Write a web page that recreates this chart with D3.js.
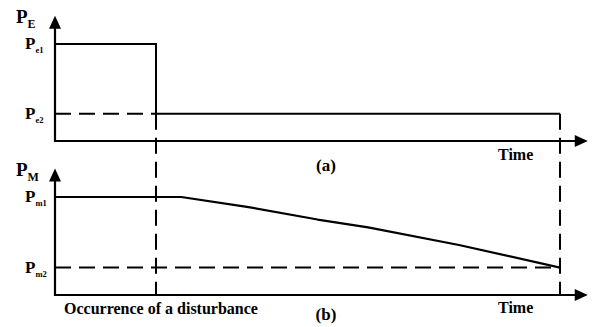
<!DOCTYPE html>
<html>
<head>
<meta charset="utf-8">
<script src="https://cdn.jsdelivr.net/npm/d3@7/dist/d3.min.js"></script>
<style>
  html, body { margin: 0; padding: 0; background: #fff; }
  svg text { font-family: "Liberation Serif", "Times New Roman", serif; font-weight: bold; fill: #000; }
</style>
</head>
<body>
<svg id="chart" width="594" height="327"></svg>
<script>
// Time instants (arbitrary units)
const tDisturbance = 2;
const tEnd = 10;
const tAxisMax = 10.55;
const valAxisMax = 1.29;

// (a) electrical power: step drop at the disturbance
const peTime = [0, 2, 2, 10];
const peValue = [1.0, 1.0, 0.28, 0.28];
const peLevels = [1.0, 0.28];
const peLabels = [["P", "e1"], ["P", "e2"]];

// (b) mechanical power: held, then slowly reduced
const pmTime = [0, 2.5, 3.8, 5.2, 6.2, 8.0, 10];
const pmValue = [1.0, 1.0, 0.9, 0.77, 0.69, 0.51, 0.28];
const pmLevels = [1.0, 0.28];
const pmLabels = [["P", "m1"], ["P", "m2"]];

const svg = d3.select("#chart");

const x = d3.scaleLinear().domain([0, tEnd]).range([55, 560]);
const ya = d3.scaleLinear().domain([0, 1]).range([141, 44]);
const yb = d3.scaleLinear().domain([0, 1]).range([295, 197]);

const ink = "#000";
const dash = "16,8";

function axes(y, title, labels, levels, timeLabelY, panelLabel, panelLabelY) {
  const g = svg.append("g");
  // vertical axis
  g.append("line")
    .attr("x1", x(0)).attr("x2", x(0))
    .attr("y1", y(0) + 1).attr("y2", y(valAxisMax) + 10)
    .attr("stroke", ink).attr("stroke-width", 2.2);
  g.append("path")
    .attr("d", `M${x(0)},${y(valAxisMax)} L${x(0) - 6},${y(valAxisMax) + 13} L${x(0) + 6},${y(valAxisMax) + 13} Z`)
    .attr("fill", ink);
  // horizontal axis
  g.append("line")
    .attr("x1", x(0) - 1).attr("x2", x(tAxisMax) - 10)
    .attr("y1", y(0)).attr("y2", y(0))
    .attr("stroke", ink).attr("stroke-width", 2.2);
  g.append("path")
    .attr("d", `M${x(tAxisMax)},${y(0)} L${x(tAxisMax) - 13},${y(0) - 6} L${x(tAxisMax) - 13},${y(0) + 6} Z`)
    .attr("fill", ink);

  // axis title, e.g. P_E
  const t = g.append("text").attr("x", 16).attr("y", y(valAxisMax) + 7).attr("font-size", 19);
  t.append("tspan").text(title[0]);
  t.append("tspan").attr("font-size", 12).attr("dy", 5).text(title[1]);

  // level labels
  labels.forEach((lab, i) => {
    const tl = g.append("text").attr("x", 25).attr("y", y(levels[i]) + 5).attr("font-size", 17);
    tl.append("tspan").text(lab[0]);
    tl.append("tspan").attr("font-size", 8.5).attr("dy", 4).text(lab[1]);
  });

  g.append("text").attr("x", 498).attr("y", timeLabelY).attr("font-size", 16).text("Time");
  g.append("text").attr("x", 326).attr("y", panelLabelY).attr("font-size", 17)
    .attr("text-anchor", "middle").text(panelLabel);
}

axes(ya, ["P", "E"], peLabels, peLevels, 160, "(a)", 171);
axes(yb, ["P", "M"], pmLabels, pmLevels, 313, "(b)", 320);

svg.append("text").attr("x", 161).attr("y", 314).attr("font-size", 16)
  .attr("text-anchor", "middle").text("Occurrence of a disturbance");

// dashed reference levels
svg.append("line")
  .attr("x1", x(0)).attr("x2", x(tDisturbance))
  .attr("y1", ya(peLevels[1])).attr("y2", ya(peLevels[1]))
  .attr("stroke", ink).attr("stroke-width", 2).attr("stroke-dasharray", dash);
svg.append("line")
  .attr("x1", x(0)).attr("x2", x(tEnd))
  .attr("y1", yb(pmLevels[1])).attr("y2", yb(pmLevels[1]))
  .attr("stroke", ink).attr("stroke-width", 2).attr("stroke-dasharray", dash);

// dashed verticals linking both panels
[tDisturbance, tEnd].forEach(t => {
  svg.append("line")
    .attr("x1", x(t)).attr("x2", x(t))
    .attr("y1", ya(peLevels[1])).attr("y2", yb(0))
    .attr("stroke", ink).attr("stroke-width", 2).attr("stroke-dasharray", dash);
});

// electrical power curve
const lineA = d3.line().x((d, i) => x(peTime[i])).y(d => ya(d));
svg.append("path").attr("d", lineA(peValue))
  .attr("fill", "none").attr("stroke", ink).attr("stroke-width", 2);

// mechanical power curve
const lineB = d3.line().x((d, i) => x(pmTime[i])).y(d => yb(d));
svg.append("path").attr("d", lineB(pmValue))
  .attr("fill", "none").attr("stroke", ink).attr("stroke-width", 2.2)
  .attr("stroke-linejoin", "round");
</script>
</body>
</html>
